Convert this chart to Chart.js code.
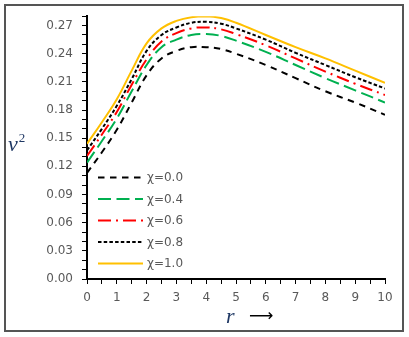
<!DOCTYPE html>
<html lang="en">
<head>
  <meta charset="UTF-8" />
  <title>v2 vs r</title>
  <script src="https://cdn.jsdelivr.net/npm/chart.js"></script>
  <style>
    html, body {
      margin: 0;
      padding: 0;
      background: #fff;
    }
    .wrap {
      position: relative;
      width: 409px;
      height: 337px;
    }
    .frame {
      position: absolute;
      left: 4px;
      top: 4px;
      width: 396px;
      height: 324px;
      border: 2px solid #555;
    }
    canvas {
      position: absolute;
      left: 0;
      top: 0;
    }
    .ytitle, .xtitle {
      position: absolute;
      font-family: "Liberation Serif", serif;
      font-style: italic;
      color: #1f3864;
    }
    .ytitle {
      left: 8px;
      top: 130px;
      font-size: 22px;
    }
    .ytitle sup {
      font-style: normal;
      font-size: 13px;
      vertical-align: 9px;
      margin-left: 1px;
    }
    .xtitle {
      left: 226px;
      top: 303px;
      font-size: 22px;
    }
    .arrow {
      position: absolute;
      left: 249px;
      top: 305px;
      font-family: "DejaVu Sans", sans-serif;
      font-size: 17px;
      color: #000;
    }
  </style>
</head>
<body>
<div class="wrap">
  <div class="frame"></div>
  <canvas id="chart" width="409" height="337"></canvas>
  <div class="ytitle">v<sup>2</sup></div>
  <div class="xtitle">r</div>
  <div class="arrow">&#10230;</div>
</div>

<script>
  // data
  const rVals = [0, 0.5, 1, 1.5, 2, 2.5, 3, 3.5, 4, 4.5, 5, 6, 7, 8, 9, 10];
  const chi00 = [0.113, 0.135, 0.159, 0.188, 0.217, 0.235, 0.243, 0.247, 0.247, 0.245, 0.240, 0.228, 0.214, 0.200, 0.188, 0.175];
  const chi04 = [0.124, 0.147, 0.171, 0.200, 0.228, 0.247, 0.255, 0.260, 0.261, 0.259, 0.254, 0.242, 0.228, 0.214, 0.201, 0.188];
  const chi06 = [0.131, 0.154, 0.178, 0.207, 0.234, 0.253, 0.262, 0.267, 0.268, 0.266, 0.261, 0.249, 0.235, 0.221, 0.208, 0.196];
  const chi08 = [0.137, 0.160, 0.1845, 0.213, 0.243, 0.260, 0.268, 0.273, 0.274, 0.272, 0.267, 0.255, 0.241, 0.228, 0.215, 0.203];
  const chi10 = [0.144, 0.167, 0.1915, 0.222, 0.251, 0.267, 0.275, 0.279, 0.280, 0.278, 0.273, 0.260, 0.247, 0.235, 0.222, 0.209];
  const seriesNames = ['χ=0.0', 'χ=0.4', 'χ=0.6', 'χ=0.8', 'χ=1.0'];

  const tickFont = { family: 'DejaVu Sans', size: 12 };
  const greyText = '#595959';

  function pts(vals) {
    return vals.map((v, i) => ({ x: rVals[i], y: v }));
  }

  const styles = [
    { color: '#000000', dash: [6.5, 5.5] },
    { color: '#00b050', dash: [13, 5.5] },
    { color: '#ff0000', dash: [13, 5, 2, 5] },
    { color: '#000000', dash: [3.5, 2.2] },
    { color: '#ffc000', dash: [] }
  ];
  const allSeries = [chi00, chi04, chi06, chi08, chi10];

  const datasets = allSeries.map((vals, i) => ({
    label: seriesNames[i],
    data: pts(vals),
    borderColor: styles[i].color,
    borderDash: styles[i].dash,
    borderWidth: 2,
    pointRadius: 0,
    fill: false,
    tension: 0.4
  }));

  // legend drawn inside the plot, lines with the real dash patterns
  const innerLegend = {
    id: 'innerLegend',
    afterDraw(chart) {
      const ctx = chart.ctx;
      const rows = [177.5, 199, 220.5, 242, 263.5];
      ctx.save();
      ctx.font = '12px "DejaVu Sans"';
      ctx.textBaseline = 'middle';
      ctx.fillStyle = greyText;
      rows.forEach((y, i) => {
        ctx.beginPath();
        ctx.strokeStyle = styles[i].color;
        ctx.lineWidth = 2;
        ctx.setLineDash(styles[i].dash);
        ctx.moveTo(98, y);
        ctx.lineTo(143, y);
        ctx.stroke();
        ctx.setLineDash([]);
        ctx.fillText(seriesNames[i], 147, y + 0.5);
      });
      ctx.restore();
    }
  };

  new Chart(document.getElementById('chart'), {
    type: 'line',
    data: { datasets },
    options: {
      responsive: false,
      animation: false,
      events: [],
      layout: { padding: { top: 15, right: 24, bottom: 0, left: 0 } },
      plugins: {
        legend: { display: false },
        tooltip: { enabled: false }
      },
      scales: {
        x: {
          type: 'linear',
          min: 0,
          max: 10,
          afterFit(scale) { scale.height = 58; },
          ticks: {
            stepSize: 0.5,
            autoSkip: false,
            maxRotation: 0,
            padding: 7,
            color: greyText,
            font: tickFont,
            callback: v => Number.isInteger(v) ? String(v) : ''
          },
          grid: { drawOnChartArea: false, drawTicks: true, tickLength: 5, color: '#000' },
          border: { display: true, color: '#000', width: 2 }
        },
        y: {
          min: 0,
          max: 0.28,
          afterFit(scale) { scale.width = 87; },
          ticks: {
            stepSize: 0.01,
            includeBounds: false,
            autoSkip: false,
            padding: 9,
            color: greyText,
            font: tickFont,
            callback: v => {
              const k = Math.round(v * 100);
              return k % 3 === 0 ? (k / 100).toFixed(2) : '';
            }
          },
          grid: { drawOnChartArea: false, drawTicks: true, tickLength: 5, color: '#000' },
          border: { display: true, color: '#000', width: 2 }
        }
      }
    },
    plugins: [innerLegend]
  });
</script>
</body>
</html>
